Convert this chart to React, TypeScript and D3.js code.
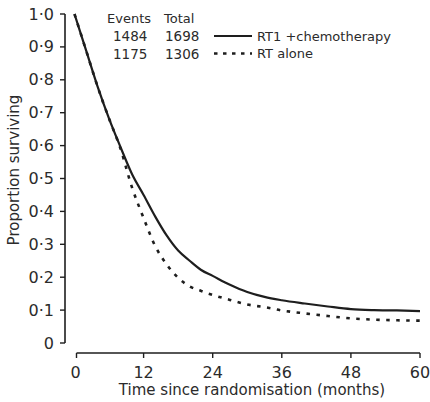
import React from "react";
import * as d3 from "d3";

const months = [0, 2, 4, 6, 8, 10, 12, 14, 16, 18, 20, 22, 24, 27, 30, 33, 36, 40, 44, 48, 52, 56, 60];
const rtChemo = [1.0, 0.89, 0.78, 0.682, 0.595, 0.513, 0.45, 0.385, 0.327, 0.281, 0.25, 0.222, 0.204, 0.177, 0.155, 0.14, 0.13, 0.12, 0.111, 0.103, 0.1, 0.099, 0.097];
const rtAlone = [1.0, 0.89, 0.78, 0.682, 0.59, 0.472, 0.38, 0.295, 0.239, 0.198, 0.172, 0.158, 0.146, 0.131, 0.117, 0.109, 0.099, 0.09, 0.082, 0.075, 0.071, 0.069, 0.068];
const xTicks = [0, 12, 24, 36, 48, 60];
const yTicks = [0, 0.1, 0.2, 0.3, 0.4, 0.5, 0.6, 0.7, 0.8, 0.9, 1.0];
const legendRows = [
  { events: "1484", total: "1698", label: "RT1 +chemotherapy", dashed: false },
  { events: "1175", total: "1306", label: "RT alone", dashed: true },
];

const W = 430;
const H = 402;
const FONT = "'DejaVu Sans', sans-serif";
const INK = "#1e1e1e";
const TXT = "#2b2b2b";

export default function App() {
  const x = d3.scaleLinear().domain([0, 60]).range([74.5, 420]);
  const y = d3.scaleLinear().domain([0, 1]).range([343, 14]);
  const axisX = 65;
  const xAxisY = 353;

  const line = d3
    .line<number>()
    .x((_, i) => x(months[i]))
    .y((d) => y(d))
    .curve(d3.curveMonotoneX);

  const fmt = (v: number) => (v === 0 ? "0" : v.toFixed(1).replace(".", "·"));

  return (
    <svg
      width={W}
      height={H}
      style={{ position: "absolute", left: 0, top: 0, background: "#fff" }}
      fontFamily={FONT}
    >
      <rect width={W} height={H} fill="#fff" />
      {/* Y axis */}
      <line x1={axisX} x2={axisX} y1={y(1)} y2={y(0)} stroke={INK} strokeWidth={1.6} />
      {yTicks.map((t) => (
        <g key={t}>
          <line x1={axisX - 5} x2={axisX} y1={y(t)} y2={y(t)} stroke={INK} strokeWidth={1.4} />
          <text
            x={axisX - 11}
            y={y(t)}
            textAnchor="end"
            dominantBaseline="central"
            fontSize={16}
            fill={TXT}
          >
            {fmt(t)}
          </text>
        </g>
      ))}
      <text
        transform={`translate(14, 170) rotate(-90)`}
        textAnchor="middle"
        dominantBaseline="central"
        fontSize={15}
        fill={TXT}
      >
        Proportion surviving
      </text>

      {/* X axis */}
      <line x1={x(0) + 2} x2={x(60)} y1={xAxisY} y2={xAxisY} stroke={INK} strokeWidth={1.4} />
      {xTicks.map((t) => (
        <g key={t}>
          <line
            x1={x(t) + (t === 0 ? 2 : 0)}
            x2={x(t) + (t === 0 ? 2 : 0)}
            y1={xAxisY}
            y2={xAxisY + 5}
            stroke={INK}
            strokeWidth={1.4}
          />
          <text
            x={x(t) + (t === 0 ? 1 : 0)}
            y={xAxisY + 19}
            textAnchor="middle"
            dominantBaseline="central"
            fontSize={16}
            fill={TXT}
          >
            {t}
          </text>
        </g>
      ))}
      <text x={252} y={390} textAnchor="middle" dominantBaseline="central" fontSize={15} fill={TXT}>
        Time since randomisation (months)
      </text>

      {/* Curves */}
      <path d={line(rtChemo) || ""} fill="none" stroke={INK} strokeWidth={2.2} />
      <path
        d={line(rtAlone) || ""}
        fill="none"
        stroke={INK}
        strokeWidth={2.6}
        strokeDasharray="3.5 6.5"
      />

      {/* Legend */}
      <text x={107} y={18} dominantBaseline="central" fontSize={13} fill={TXT}>
        Events
      </text>
      <text x={164} y={18} dominantBaseline="central" fontSize={13} fill={TXT}>
        Total
      </text>
      {legendRows.map((r, i) => {
        const yy = 36 + i * 17.5;
        return (
          <g key={r.label}>
            <text x={113} y={yy} dominantBaseline="central" fontSize={13.5} fill={TXT}>
              {r.events}
            </text>
            <text x={165} y={yy} dominantBaseline="central" fontSize={13.5} fill={TXT}>
              {r.total}
            </text>
            <line
              x1={214}
              x2={252}
              y1={yy}
              y2={yy}
              stroke={INK}
              strokeWidth={r.dashed ? 2.4 : 2}
              strokeDasharray={r.dashed ? "3.5 5.5" : undefined}
            />
            <text x={257} y={yy} dominantBaseline="central" fontSize={13} fill={TXT}>
              {r.label}
            </text>
          </g>
        );
      })}
    </svg>
  );
}
